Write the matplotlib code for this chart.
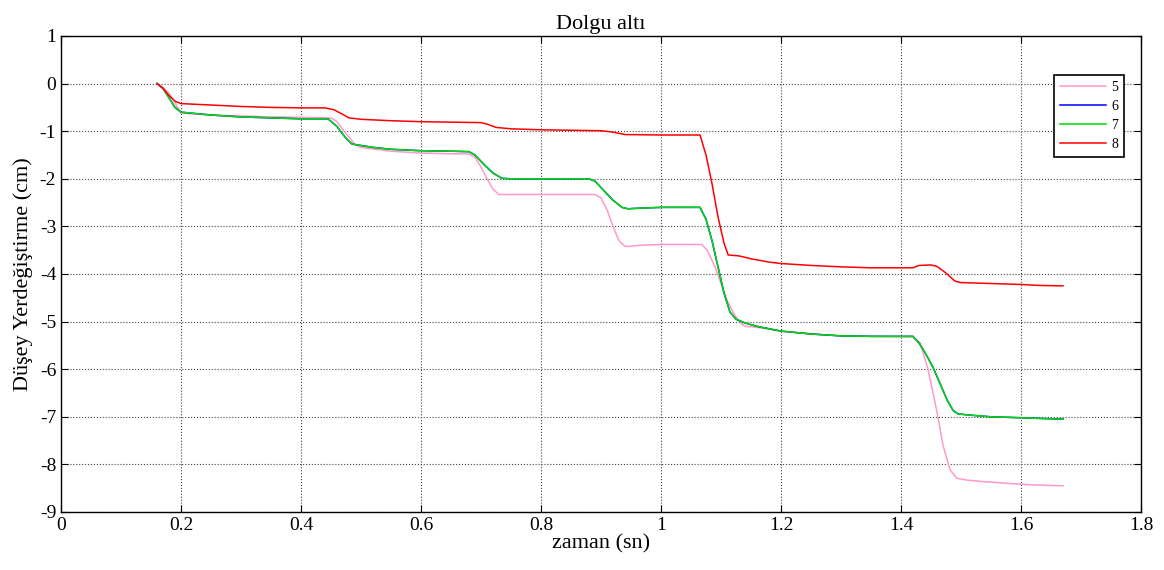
import matplotlib
matplotlib.use("Agg")
import matplotlib.pyplot as plt
from matplotlib.ticker import FuncFormatter

plt.rcParams['font.family'] = ['Liberation Serif', 'DejaVu Serif']
plt.rcParams['axes.unicode_minus'] = False

title = "Dolgu altı"
xlabel = "zaman (sn)"
ylabel = "Düşey Yerdeğiştirme (cm)"
labels = ["5", "6", "7", "8"]

x5 = [0.16, 0.17, 0.18, 0.19, 0.2, 0.25, 0.3, 0.35, 0.4, 0.45, 0.46, 0.475, 0.49, 0.5, 0.55, 0.6, 0.68,
      0.69, 0.7, 0.71, 0.72, 0.73, 0.8, 0.89, 0.9, 0.91, 0.92, 0.93, 0.94, 0.95, 0.96, 1.0, 1.068, 1.077,
      1.09, 1.1, 1.11, 1.12, 1.13, 1.14, 1.16, 1.2, 1.25, 1.3, 1.35, 1.42, 1.432, 1.445, 1.46, 1.47, 1.482,
      1.493, 1.51, 1.537, 1.58, 1.62, 1.67]
y5 = [0, -0.08, -0.2, -0.4, -0.62, -0.66, -0.68, -0.7, -0.71, -0.72, -0.8, -1.05, -1.28, -1.34, -1.42, -1.46, -1.48,
      -1.55, -1.75, -2.0, -2.22, -2.33, -2.33, -2.33, -2.4, -2.65, -3.0, -3.3, -3.42, -3.42, -3.4, -3.38, -3.38, -3.5,
      -3.85, -4.2, -4.55, -4.8, -5.0, -5.1, -5.12, -5.2, -5.26, -5.3, -5.31, -5.32, -5.45, -6.0, -6.9, -7.6, -8.12,
      -8.29, -8.33, -8.36, -8.4, -8.43, -8.45]

x6 = [0.16, 0.17, 0.18, 0.19, 0.2, 0.25, 0.3, 0.35, 0.4, 0.445, 0.46, 0.475, 0.485, 0.5, 0.52, 0.55, 0.6, 0.65,
      0.68, 0.69, 0.705, 0.72, 0.735, 0.75, 0.8, 0.88, 0.89, 0.905, 0.92, 0.935, 0.945, 0.96, 1.0, 1.065, 1.075,
      1.085, 1.095, 1.105, 1.115, 1.125, 1.14, 1.16, 1.2, 1.25, 1.3, 1.35, 1.42, 1.43, 1.44, 1.453, 1.465,
      1.477, 1.487, 1.495, 1.52, 1.55, 1.6, 1.67]
y6 = [0, -0.1, -0.3, -0.5, -0.6, -0.66, -0.7, -0.72, -0.74, -0.74, -0.9, -1.15, -1.27, -1.3, -1.34, -1.38, -1.41, -1.42,
      -1.43, -1.5, -1.7, -1.88, -1.99, -2.0, -2.0, -2.0, -2.05, -2.25, -2.45, -2.6, -2.63, -2.62, -2.6, -2.6, -2.85,
      -3.3, -3.85, -4.4, -4.8, -4.95, -5.03, -5.1, -5.2, -5.26, -5.3, -5.31, -5.31, -5.45, -5.65, -5.95, -6.3,
      -6.65, -6.87, -6.94, -6.97, -7.0, -7.02, -7.05]

x7 = [0.16, 0.17, 0.18, 0.19, 0.2, 0.25, 0.3, 0.35, 0.4, 0.445, 0.46, 0.475, 0.485, 0.5, 0.52, 0.55, 0.6, 0.65,
      0.68, 0.69, 0.705, 0.72, 0.735, 0.75, 0.8, 0.88, 0.89, 0.905, 0.92, 0.935, 0.945, 0.96, 1.0, 1.065, 1.075,
      1.085, 1.095, 1.105, 1.115, 1.125, 1.14, 1.16, 1.2, 1.25, 1.3, 1.35, 1.42, 1.43, 1.44, 1.453, 1.465,
      1.477, 1.487, 1.495, 1.52, 1.55, 1.6, 1.67]
y7 = [0, -0.1, -0.3, -0.5, -0.6, -0.66, -0.7, -0.72, -0.74, -0.74, -0.9, -1.15, -1.27, -1.3, -1.34, -1.38, -1.41, -1.42,
      -1.43, -1.5, -1.7, -1.88, -1.99, -2.0, -2.0, -2.0, -2.05, -2.25, -2.45, -2.6, -2.63, -2.62, -2.6, -2.6, -2.85,
      -3.3, -3.85, -4.4, -4.8, -4.95, -5.03, -5.1, -5.2, -5.26, -5.3, -5.31, -5.31, -5.45, -5.65, -5.95, -6.3,
      -6.65, -6.87, -6.94, -6.97, -7.0, -7.02, -7.05]

x8 = [0.16, 0.17, 0.18, 0.19, 0.2, 0.25, 0.3, 0.35, 0.4, 0.44, 0.455, 0.47, 0.48, 0.5, 0.55, 0.6, 0.65, 0.7,
      0.71, 0.725, 0.75, 0.8, 0.85, 0.9, 0.92, 0.94, 1.0, 1.065, 1.075, 1.085, 1.095, 1.105, 1.112, 1.13, 1.15,
      1.18, 1.2, 1.25, 1.3, 1.35, 1.42, 1.43, 1.45, 1.46, 1.475, 1.49, 1.5, 1.55, 1.6, 1.63, 1.67]
y8 = [0, -0.1, -0.25, -0.37, -0.42, -0.45, -0.48, -0.5, -0.51, -0.51, -0.55, -0.65, -0.72, -0.75, -0.78, -0.8, -0.81,
      -0.82, -0.85, -0.92, -0.95, -0.97, -0.98, -0.99, -1.02, -1.07, -1.08, -1.08, -1.5, -2.1, -2.8, -3.35, -3.6,
      -3.62, -3.68, -3.75, -3.78, -3.82, -3.85, -3.87, -3.87, -3.82, -3.81, -3.84, -3.98, -4.15, -4.18, -4.2, -4.22,
      -4.24, -4.25]

colors = ['#ff99cc', '#0000ff', '#00dd00', '#ff0000']

fig = plt.figure(figsize=(11.64, 5.70), dpi=100)
ax = fig.add_axes([61/1164, 1-512/570, 1080/1164, 476/570])

for xs, ys, c, lab in zip([x5, x6, x7, x8], [y5, y6, y7, y8], colors, labels):
    ax.plot(xs, ys, color=c, lw=1.1, label=lab)

ax.set_xlim(0, 1.8)
ax.set_ylim(-9, 1)
ax.set_xticks([i * 0.2 for i in range(10)])
ax.set_yticks(list(range(-9, 2)))
ax.xaxis.set_major_formatter(FuncFormatter(lambda v, p: f"{v:g}"))
ax.tick_params(direction='in', top=True, right=True, length=5, labelsize=14, width=0.8)
ax.grid(True, linestyle=':', color='#444444', lw=0.8)
for s in ax.spines.values():
    s.set_linewidth(1.0)

ax.set_title(title, fontsize=16, pad=5)
ax.set_xlabel(xlabel, fontsize=16, labelpad=0)
ax.set_ylabel(ylabel, fontsize=16, labelpad=5)

leg = ax.legend(loc='upper right', bbox_to_anchor=(0.984, 0.918), borderaxespad=0,
                fancybox=False, edgecolor='black', framealpha=1, fontsize=10,
                handlelength=3.3, handletextpad=0.4, labelspacing=0.45, borderpad=0.4)
leg.get_frame().set_linewidth(1.2)

fig.savefig('out.png', dpi=100)
